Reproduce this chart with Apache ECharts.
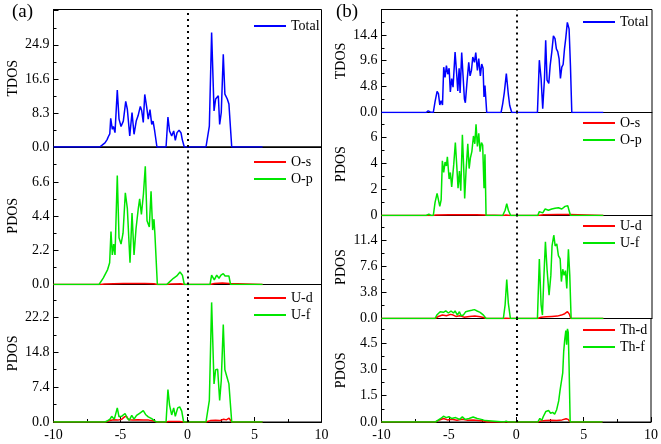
<!DOCTYPE html>
<html><head><meta charset="utf-8">
<script src="https://cdn.jsdelivr.net/npm/echarts@6/dist/echarts.min.js"></script>
<style>html,body{margin:0;padding:0;background:#fff}#c{width:661px;height:444px}</style>
</head><body><div id="c"></div>
<script>
// ---------- data (energy in eV, DOS values) ----------
const aTotal = [[-10,0],[-6.55,0],[-6.35,0.5],[-6.16,1.0],[-6.0,1.8],[-5.91,2.5],[-5.8,3.2],[-5.73,7.0],[-5.61,4.3],[-5.53,5.0],[-5.41,3.5],[-5.24,13.9],[-5.11,6.8],[-4.96,5.0],[-4.79,6.3],[-4.61,11.1],[-4.49,9.2],[-4.31,2.7],[-4.14,8.4],[-3.99,3.1],[-3.82,6.4],[-3.69,7.6],[-3.52,9.9],[-3.42,8.9],[-3.3,6.0],[-3.19,12.8],[-3.04,9.6],[-2.93,6.8],[-2.8,9.1],[-2.67,5.5],[-2.57,6.3],[-2.45,3.9],[-2.28,0],[-1.6,0],[-1.46,7.3],[-1.34,3.9],[-1.18,2.7],[-1.03,3.9],[-0.91,1.6],[-0.78,3.5],[-0.63,4.1],[-0.48,3.4],[-0.39,1.8],[-0.24,0],[1.38,0],[1.63,5.1],[1.8,27.9],[1.98,8.8],[2.1,11.7],[2.3,12.5],[2.4,5.5],[2.52,8.4],[2.67,22.6],[2.79,12.9],[2.97,11.7],[3.09,10.5],[3.3,0],[5.6,0]];
const aOs = [[-10,0],[-6.5,0],[-6.2,0.03],[-5.5,0.05],[-4.8,0.06],[-4.0,0.07],[-3.2,0.06],[-2.5,0.05],[-2.25,0],[-1.55,0],[-1.2,0.04],[-0.5,0.05],[-0.24,0],[1.68,0],[2.0,0.06],[2.6,0.1],[3.1,0.06],[3.21,0],[5.6,0]];
const aOp = [[-10,0],[-6.6,0],[-6.28,0.43],[-5.96,0.96],[-5.81,1.4],[-5.71,3.4],[-5.61,1.9],[-5.51,2.6],[-5.41,1.9],[-5.24,7.0],[-5.11,3.0],[-4.96,2.6],[-4.81,3.3],[-4.64,5.9],[-4.49,4.9],[-4.29,1.4],[-4.14,4.6],[-3.99,1.9],[-3.84,3.6],[-3.67,4.9],[-3.57,5.5],[-3.44,4.5],[-3.29,5.8],[-3.15,7.6],[-3.02,4.1],[-2.85,3.7],[-2.72,6.0],[-2.6,3.5],[-2.5,4.2],[-2.43,3.2],[-2.25,0],[-1.55,0],[-1.3,0.2],[-1.05,0.4],[-0.8,0.55],[-0.56,0.8],[-0.38,0.6],[-0.24,0],[1.68,0],[1.8,0.6],[2.0,0.3],[2.18,0.6],[2.35,0.4],[2.5,0.6],[2.67,0.7],[2.8,0.55],[2.91,0.65],[3.09,0.55],[3.21,0],[5.6,0]];
const aUd = [[-10,0],[-6.1,0],[-5.8,0.3],[-5.5,0.5],[-5.2,0.4],[-4.9,0.6],[-4.7,1.1],[-4.55,1.2],[-4.4,0.5],[-4.1,0.4],[-3.7,0.5],[-3.3,0.45],[-2.9,0.4],[-2.5,0.2],[-2.3,0],[-1.6,0],[-1.4,0.1],[-0.6,0.1],[-0.3,0],[1.38,0],[1.7,0.3],[2.1,0.35],[2.4,0.3],[2.7,0.6],[2.9,0.45],[3.1,0.8],[3.2,0.5],[3.3,0],[5.6,0]];
const aUf = [[-10,0],[-6.16,0],[-5.95,0.3],[-5.78,0.6],[-5.66,1.2],[-5.46,0.6],[-5.24,3.0],[-5.11,1.1],[-4.92,1.2],[-4.66,1.8],[-4.49,0.8],[-4.34,0.4],[-4.16,1.4],[-3.99,0.6],[-3.8,1.4],[-3.55,1.9],[-3.3,2.4],[-3.13,1.6],[-2.93,1.1],[-2.67,0.7],[-2.43,0.2],[-2.28,0],[-1.6,0],[-1.46,6.9],[-1.34,3.6],[-1.18,1.5],[-1.03,3.0],[-0.91,1.2],[-0.73,3.0],[-0.58,3.2],[-0.43,2.3],[-0.29,0],[1.38,0],[1.63,4.6],[1.8,25.4],[1.98,8.1],[2.1,11.1],[2.25,11.2],[2.4,4.6],[2.52,8.8],[2.67,20.7],[2.79,11.1],[2.97,9.3],[3.09,8.1],[3.3,0],[5.6,0]];

const bTotal = [[-10,0],[-6.7,0],[-6.55,0.3],[-6.4,0.1],[-6.17,0],[-6.04,2.0],[-5.89,3.9],[-5.79,3.5],[-5.69,1.4],[-5.59,2.2],[-5.49,1.4],[-5.4,8.4],[-5.3,6.5],[-5.2,8.7],[-5.1,7.1],[-5.0,8.2],[-4.91,3.8],[-4.81,6.3],[-4.71,4.7],[-4.56,11.2],[-4.44,7.1],[-4.36,4.0],[-4.26,8.2],[-4.19,3.6],[-4.07,11.1],[-3.97,6.8],[-3.87,2.5],[-3.8,1.8],[-3.67,5.9],[-3.55,9.3],[-3.45,6.8],[-3.35,7.8],[-3.25,10.3],[-3.13,9.3],[-3.03,11.1],[-2.91,7.8],[-2.81,10.0],[-2.69,6.8],[-2.59,9.0],[-2.49,8.2],[-2.42,2.9],[-2.35,5.0],[-2.22,0],[-1.16,0],[-1.04,1.6],[-0.92,3.7],[-0.77,7.2],[-0.62,3.3],[-0.52,1.3],[-0.37,0],[1.53,0],[1.67,9.7],[1.8,6.3],[1.92,0.7],[2.05,6.3],[2.14,13.4],[2.24,6.0],[2.37,5.4],[2.47,8.7],[2.59,11.2],[2.71,14.2],[2.83,13.7],[2.93,11.8],[3.03,11.3],[3.13,10.0],[3.23,6.3],[3.33,8.4],[3.43,8.9],[3.53,11.8],[3.62,13.7],[3.74,16.7],[3.87,15.5],[3.97,8.7],[4.07,0],[6.4,0]];
const bOs = [[-10,0],[-6.2,0],[-6.0,0.04],[-5.0,0.06],[-4.0,0.05],[-3.0,0.06],[-2.3,0.03],[-2.25,0],[-1.0,0],[-0.8,0.03],[-0.5,0],[1.55,0],[2.0,0.05],[3.0,0.07],[3.9,0.08],[4.0,0],[6.4,0]];
const bOp = [[-10,0],[-6.7,0],[-6.5,0.1],[-6.35,0],[-6.17,0],[-6.04,1.0],[-5.89,1.7],[-5.79,1.8],[-5.69,0.7],[-5.59,1.2],[-5.5,4.2],[-5.4,3.3],[-5.3,4.1],[-5.2,3.8],[-5.13,4.5],[-5.0,2.8],[-4.91,3.3],[-4.81,2.2],[-4.66,3.9],[-4.54,5.6],[-4.44,3.9],[-4.34,2.1],[-4.24,3.4],[-4.14,1.9],[-4.02,6.2],[-3.92,3.6],[-3.85,1.3],[-3.75,3.4],[-3.62,5.5],[-3.52,3.6],[-3.43,4.4],[-3.32,4.9],[-3.2,6.1],[-3.1,5.5],[-3.01,7.0],[-2.91,5.3],[-2.81,6.3],[-2.71,4.9],[-2.61,5.6],[-2.52,5.4],[-2.42,2.1],[-2.35,4.7],[-2.27,0],[-1.04,0],[-0.86,0.4],[-0.74,0.9],[-0.62,0.4],[-0.45,0],[1.55,0],[1.67,0.3],[1.8,0.15],[1.92,0.2],[2.1,0.5],[2.34,0.4],[2.59,0.5],[2.83,0.55],[3.08,0.6],[3.33,0.5],[3.57,0.7],[3.77,0.75],[3.87,0.8],[3.97,0],[6.4,0]];
const bUd = [[-10,0],[-6.0,0],[-5.8,0.3],[-5.5,0.5],[-5.2,0.4],[-4.9,0.6],[-4.7,0.5],[-4.5,0.3],[-4.2,0.4],[-3.9,0.2],[-3.5,0.3],[-3.1,0.35],[-2.7,0.25],[-2.4,0.1],[-2.25,0],[-1.0,0],[-0.8,0.05],[-0.5,0],[1.55,0],[1.8,0.2],[2.2,0.25],[2.6,0.3],[3.0,0.35],[3.3,0.5],[3.55,0.7],[3.75,1.0],[3.9,0.6],[4.0,0],[6.4,0]];
const bUf = [[-10,0],[-6.04,0],[-5.91,0.5],[-5.66,1.0],[-5.42,0.9],[-5.25,1.1],[-5.05,0.8],[-4.86,1.1],[-4.68,0.8],[-4.56,1.1],[-4.39,0.5],[-4.24,1.0],[-4.12,0.4],[-3.95,0.5],[-3.77,1.0],[-3.57,1.1],[-3.33,1.2],[-3.13,1.3],[-2.93,1.1],[-2.71,0.9],[-2.46,0.5],[-2.27,0],[-0.99,0],[-0.86,2.0],[-0.74,5.7],[-0.62,2.2],[-0.47,0],[1.53,0],[1.67,8.7],[1.8,2.0],[1.9,0.5],[2.0,5.8],[2.12,11.2],[2.24,7.2],[2.39,3.4],[2.52,6.3],[2.61,10.6],[2.74,12.2],[2.84,10.6],[2.96,10.9],[3.08,9.2],[3.21,8.7],[3.3,5.4],[3.4,7.2],[3.5,6.3],[3.6,7.0],[3.7,4.4],[3.82,10.1],[3.92,6.3],[4.02,0],[6.4,0]];
const bThd = [[-10,0],[-6.0,0],[-5.8,0.08],[-5.4,0.2],[-5.1,0.12],[-4.8,0.15],[-4.4,0.1],[-4.0,0.15],[-3.6,0.1],[-3.2,0.12],[-2.8,0.08],[-2.4,0.05],[-2.2,0],[1.6,0],[1.8,0.05],[2.2,0.08],[2.6,0.1],[3.0,0.08],[3.4,0.12],[3.7,0.18],[3.85,0.15],[4.0,0],[6.4,0]];
const bThf = [[-10,0],[-6.0,0],[-5.9,0.1],[-5.6,0.2],[-5.4,0.33],[-5.2,0.25],[-5.0,0.3],[-4.8,0.2],[-4.5,0.25],[-4.2,0.15],[-4.0,0.3],[-3.8,0.15],[-3.5,0.2],[-3.2,0.28],[-2.9,0.2],[-2.6,0.15],[-2.3,0.08],[-2.2,0],[-0.9,0],[-0.75,0.05],[-0.6,0],[1.6,0],[1.75,0.2],[1.9,0.1],[2.0,0.3],[2.2,0.6],[2.4,0.65],[2.55,0.5],[2.7,0.55],[2.85,0.45],[3.0,0.7],[3.15,1.2],[3.25,1.8],[3.35,1.9],[3.45,2.8],[3.52,4.0],[3.6,4.7],[3.68,5.2],[3.74,4.4],[3.8,5.3],[3.86,5.1],[3.92,3.2],[4.0,0],[6.4,0]];

// tick labels
const xTicks = [-10, -5, 0, 5, 10];
const aTdosTicks = [0, 8.3, 16.6, 24.9];
const aOTicks = [0, 2.2, 4.4, 6.6];
const aUTicks = [0, 7.4, 14.8, 22.2];
const bTdosTicks = [0, 4.8, 9.6, 14.4];
const bOTicks = [0, 2, 4, 6];
const bUTicks = [0, 3.8, 7.6, 11.4];
const bThTicks = [0, 1.5, 3.0, 4.5];

// ---------- layout ----------
const FF = '"Liberation Serif", "Times New Roman", serif';
const BLUE = '#0000ff', RED = '#ff0000', GREEN = '#00e600';
const panels = [
  {col: 'a', top: 9.5, h: 137.5, max: 33.5, ticks: aTdosTicks, dec: 1, name: 'TDOS', bottom: false,
   series: [{n: 'Total', d: aTotal, c: BLUE}]},
  {col: 'a', top: 147, h: 137.5, max: 8.84, ticks: aOTicks, dec: 1, name: 'PDOS', bottom: false,
   series: [{n: 'O-s', d: aOs, c: RED}, {n: 'O-p', d: aOp, c: GREEN}]},
  {col: 'a', top: 284.5, h: 137.5, max: 29.2, ticks: aUTicks, dec: 1, name: 'PDOS', bottom: true,
   series: [{n: 'U-d', d: aUd, c: RED}, {n: 'U-f', d: aUf, c: GREEN}]},
  {col: 'b', top: 9.5, h: 103, max: 19.1, ticks: bTdosTicks, dec: 1, name: 'TDOS', bottom: false,
   series: [{n: 'Total', d: bTotal, c: BLUE}]},
  {col: 'b', top: 112.5, h: 103, max: 7.9, ticks: bOTicks, dec: 0, name: 'PDOS', bottom: false,
   series: [{n: 'O-s', d: bOs, c: RED}, {n: 'O-p', d: bOp, c: GREEN}]},
  {col: 'b', top: 215.5, h: 103, max: 15.05, ticks: bUTicks, dec: 1, name: 'PDOS', bottom: false,
   series: [{n: 'U-d', d: bUd, c: RED}, {n: 'U-f', d: bUf, c: GREEN}]},
  {col: 'b', top: 318.5, h: 103.5, max: 5.89, ticks: bThTicks, dec: 1, name: 'PDOS', bottom: true,
   series: [{n: 'Th-d', d: bThd, c: RED}, {n: 'Th-f', d: bThf, c: GREEN}]}
];
const COL = {a: {left: 53.5, width: 268, legLeft: 254}, b: {left: 381.5, width: 270.5, legLeft: 583}};
const legTop = [19, 155, 291, 15, 116, 219, 323];

const grid = [], xAxis = [], yAxis = [], series = [], legend = [];
panels.forEach((p, i) => {
  const c = COL[p.col];
  grid.push({left: c.left, width: c.width, top: p.top, height: p.h, show: true,
    borderColor: '#000', borderWidth: 1, backgroundColor: 'transparent'});
  xAxis.push({type: 'value', gridIndex: i, min: -10, max: 10, interval: 5,
    axisLine: {show: true, onZero: false, lineStyle: {color: '#000', width: 1}},
    axisTick: {show: p.bottom, inside: true, length: 5, lineStyle: {color: '#000'}},
    minorTick: {show: p.bottom, splitNumber: 2, length: 3, lineStyle: {color: '#000'}},
    axisLabel: {show: p.bottom, margin: 6, fontFamily: FF, fontSize: 14, color: '#000',
      formatter: v => xTicks.indexOf(v) >= 0 ? String(v) : ''},
    splitLine: {show: false}});
  yAxis.push({type: 'value', gridIndex: i, min: 0, max: p.max, interval: p.ticks[1],
    name: p.name, nameLocation: 'middle', nameGap: 33,
    nameTextStyle: {fontFamily: FF, fontSize: 14, color: '#000'},
    axisLine: {show: true, onZero: false, lineStyle: {color: '#000', width: 1}},
    axisTick: {show: true, inside: true, length: 5, lineStyle: {color: '#000'}},
    minorTick: {show: true, splitNumber: 2, length: 3, lineStyle: {color: '#000'}},
    axisLabel: {margin: 4, fontFamily: FF, fontSize: 14, color: '#000',
      formatter: v => p.ticks.some(t => Math.abs(t - v) < 1e-6) ? v.toFixed(p.dec) : ''},
    splitLine: {show: false}});
  p.series.forEach((s, k) => {
    const o = {type: 'line', name: s.n, xAxisIndex: i, yAxisIndex: i, data: s.d,
      symbol: 'none', color: s.c, lineStyle: {color: s.c, width: 1.5}, z: 3 + k};
    if (k === 0) {
      o.markLine = {silent: true, symbol: 'none', label: {show: false}, z: 10,
        lineStyle: {color: '#000', type: [2, 4], width: 2}, data: [{xAxis: 0}]};
    }
    series.push(o);
  });
  legend.push({orient: 'vertical', left: c.legLeft, top: legTop[i], padding: 0, itemGap: 3,
    itemWidth: 32, itemHeight: 2, icon: 'rect', selectedMode: false,
    data: p.series.map(s => ({name: s.n, itemStyle: {color: s.c}})),
    textStyle: {fontFamily: FF, fontSize: 14, color: '#000'}});
});

const chart = echarts.init(document.getElementById('c'), null, {renderer: 'canvas'});
chart.setOption({
  animation: false,
  backgroundColor: '#fff',
  grid, xAxis, yAxis, series, legend,
  graphic: [
    {type: 'text', left: 12, top: 3, style: {text: '(a)', font: '19px ' + FF, fill: '#000'}},
    {type: 'text', left: 336, top: 3, style: {text: '(b)', font: '19px ' + FF, fill: '#000'}}
  ]
});
</script></body></html>
